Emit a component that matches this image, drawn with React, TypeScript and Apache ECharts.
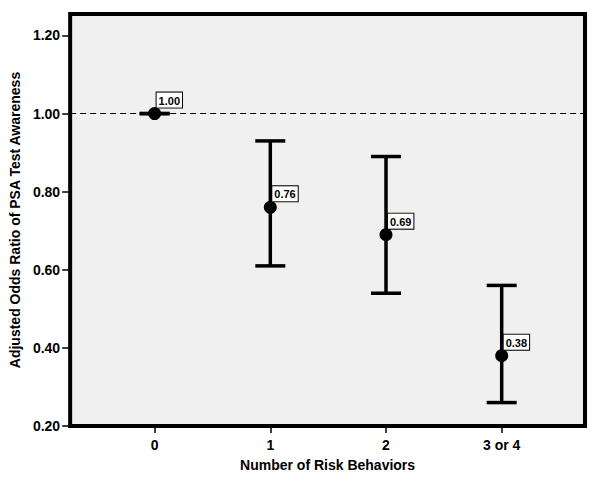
import React, { useEffect, useRef } from "react";
import * as echarts from "echarts";

const categories = ["0", "1", "2", "3 or 4"];
const xPositions = [0, 1, 2, 3];
const oddsRatios = [1.0, 0.76, 0.69, 0.38];
const ciLower = [1.0, 0.61, 0.54, 0.26];
const ciUpper = [1.0, 0.93, 0.89, 0.56];
const yTicks = [0.2, 0.4, 0.6, 0.8, 1.0, 1.2];
const referenceLine = 1.0;

export default function App() {
  const ref = useRef<HTMLDivElement>(null);
  useEffect(() => {
    const chart = echarts.init(ref.current!, null, { renderer: "svg" });
    const font = "Arial, 'Liberation Sans', sans-serif";
    chart.setOption({
      animation: false,
      backgroundColor: "#ffffff",
      grid: {
        left: 67,
        right: 15,
        top: 14,
        bottom: 53,
        show: true,
        backgroundColor: "#f0f0f0",
        borderColor: "#000000",
        borderWidth: 4,
      },
      xAxis: {
        type: "value",
        min: -0.73,
        max: 3.72,
        name: "Number of Risk Behaviors",
        nameLocation: "middle",
        nameGap: 32,
        nameTextStyle: { fontFamily: font, fontWeight: "bold", fontSize: 14, color: "#000" },
        splitLine: { show: false },
        axisLine: { show: false, onZero: false },
        axisTick: {
          show: true,
          customValues: xPositions,
          length: 7,
          lineStyle: { color: "#000", width: 1.5 },
        },
        axisLabel: {
          customValues: xPositions,
          formatter: (v: number) => categories[Math.round(v)] ?? "",
          fontFamily: font,
          fontWeight: "bold",
          fontSize: 14,
          color: "#000",
          margin: 12,
        },
      },
      yAxis: {
        type: "value",
        min: 0.2,
        max: 1.255,
        name: "Adjusted Odds Ratio of PSA Test Awareness",
        nameLocation: "middle",
        nameGap: 35,
        nameTextStyle: { fontFamily: font, fontWeight: "bold", fontSize: 14, color: "#000" },
        splitLine: { show: false },
        axisLine: { show: false, onZero: false },
        axisTick: {
          show: true,
          customValues: yTicks,
          length: 8,
          lineStyle: { color: "#000", width: 1.5 },
        },
        axisLabel: {
          customValues: yTicks,
          formatter: (v: number) => v.toFixed(2),
          fontFamily: font,
          fontWeight: "bold",
          fontSize: 14,
          color: "#000",
          margin: 10,
        },
      },
      series: [
        {
          type: "custom",
          z: 2,
          data: xPositions.map((x, i) => [x, ciLower[i], ciUpper[i]]),
          encode: { x: 0, y: [1, 2] },
          renderItem: (params: any, api: any) => {
            const x = api.value(0);
            const pLo = api.coord([x, api.value(1)]);
            const pHi = api.coord([x, api.value(2)]);
            const hw = 15;
            const style = { stroke: "#000", lineWidth: 3.5 };
            return {
              type: "group",
              children: [
                { type: "line", shape: { x1: pLo[0], y1: pLo[1], x2: pHi[0], y2: pHi[1] }, style },
                { type: "line", shape: { x1: pLo[0] - hw, y1: pLo[1], x2: pLo[0] + hw, y2: pLo[1] }, style },
                { type: "line", shape: { x1: pHi[0] - hw, y1: pHi[1], x2: pHi[0] + hw, y2: pHi[1] }, style },
              ],
            };
          },
          markLine: {
            silent: true,
            symbol: ["none", "none"],
            label: { show: false },
            lineStyle: { color: "#000", width: 1, type: [6, 4] },
            data: [{ yAxis: referenceLine }],
          },
        },
        {
          type: "scatter",
          z: 3,
          symbol: "circle",
          symbolSize: 13,
          itemStyle: { color: "#000", opacity: 1 },
          data: xPositions.map((x, i) => [x, oddsRatios[i]]),
          label: {
            show: true,
            position: [8.5, -14.5],
            align: "left",
            verticalAlign: "top",
            formatter: (p: any) => Number(p.value[1]).toFixed(2),
            fontFamily: font,
            fontWeight: "bold",
            fontSize: 11,
            lineHeight: 12,
            color: "#000",
            backgroundColor: "#ffffff",
            borderColor: "#000",
            borderWidth: 1,
            padding: [2, 2, 1, 2],
          },
        },
      ],
    });
    return () => chart.dispose();
  }, []);
  return (
    <div
      ref={ref}
      style={{ position: "fixed", left: 0, top: 0, width: 600, height: 479 }}
    />
  );
}
